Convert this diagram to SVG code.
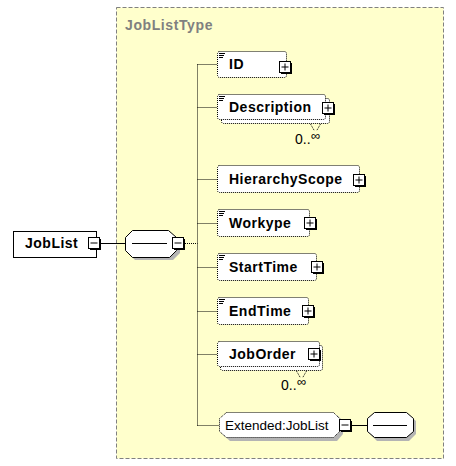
<svg xmlns="http://www.w3.org/2000/svg" xmlns:xlink="http://www.w3.org/1999/xlink" width="456" height="466" viewBox="0 0 456 466">
<style>
text{font-family:"Liberation Sans",Arial,sans-serif;fill:#000}
.nm{font-size:14px;font-weight:bold;letter-spacing:0.5px}
.el{fill:#fff;stroke:#000;stroke-width:1;stroke-dasharray:1,1}
.dot{fill:none;stroke:#000;stroke-width:1;stroke-dasharray:1,1}
.sh{fill:#b4b4b4}
.card{font-size:14px}
.inf{font-size:13px}
.ico{stroke:#000;stroke-width:1}
</style>
<defs>
<g id="plus"><rect x="2" y="2" width="11" height="11" fill="#000"/><rect x="0.5" y="0.5" width="11" height="11" fill="#fff" stroke="#000"/><path d="M2.5 6H9.5M6 2.5V9.5" stroke="#000" fill="none"/></g>
<g id="minus"><rect x="2" y="2" width="11" height="11" fill="#000"/><rect x="0.5" y="0.5" width="11" height="11" fill="#fff" stroke="#000"/><path d="M2.5 6H9.5" stroke="#000" fill="none"/></g>
<g id="icon"><path d="M0 0.5H6M0 2.5H5M0 4.5H4" class="ico" fill="none"/></g>
</defs>
<rect width="456" height="466" fill="#fff"/>
<g id="JobListType">
<rect x="116.5" y="7.5" width="327" height="451" fill="#ffffcc" stroke="#808080" stroke-dasharray="4,2"/>
<text x="125" y="30" style="font-size:14px;font-weight:bold;letter-spacing:0.6px;fill:#808080">JobListType</text>
</g>
<g id="connectors">
<path d="M100 243.5H125" stroke="#000" fill="none"/>
<path d="M185 243.5H197.5M197.5 64.5V425.5M197.5 64.5H217M197.5 107.5H217M197.5 179.5H217M197.5 223.5H217M197.5 267.5H217M197.5 311.5H217M197.5 354.5H217M197.5 425.5H219" class="dot"/>
<path d="M352 425.5H367" stroke="#000" fill="none"/>
</g>
<g id="JobList">
<rect x="13.5" y="231.5" width="83" height="26" fill="#fff" stroke="#000"/>
<text x="25" y="248" class="nm">JobList</text>
<use xlink:href="#minus" x="88" y="237"/>
</g>
<g id="sequence">
<polygon class="sh" points="135,233 170,233 180,240 180,253 173,260 135,260 128,253 128,240"/>
<polygon points="132.5,230.5 168.5,230.5 176.5,237.5 176.5,250.5 169.5,257.5 132.5,257.5 125.5,250.5 125.5,237.5" fill="#fff" stroke="#000"/>
<path d="M132 243.5H167" stroke="#000"/>
<use xlink:href="#minus" x="172" y="237"/>
</g>
<g id="ID">
<rect x="217.5" y="51.5" width="69" height="26" rx="2" class="el"/>
<use xlink:href="#icon" x="219" y="53"/>
<text x="229" y="69" class="nm">ID</text>
<use xlink:href="#plus" x="279" y="61"/>
</g>
<g id="Description">
<rect x="221.5" y="98.5" width="108" height="25" rx="2" class="el"/>
<rect x="217.5" y="94.5" width="108" height="25" rx="2" class="el"/>
<use xlink:href="#icon" x="219" y="96"/>
<text x="229" y="112" class="nm">Description</text>
<use xlink:href="#plus" x="322" y="102"/>
<path d="M310.5 124L314.5 131M320.5 124L316.5 131" class="dot"/>
<text x="295" y="144" class="card">0..</text>
<text x="311" y="140" class="inf">∞</text>
</g>
<g id="HierarchyScope">
<rect x="217.5" y="165.5" width="142" height="27" rx="2" class="el"/>
<text x="229" y="184" class="nm">HierarchyScope</text>
<use xlink:href="#plus" x="353" y="174"/>
</g>
<g id="Workype">
<rect x="217.5" y="209.5" width="92" height="27" rx="2" class="el"/>
<use xlink:href="#icon" x="219" y="211"/>
<text x="229" y="228" class="nm">Workype</text>
<use xlink:href="#plus" x="304" y="217"/>
</g>
<g id="StartTime">
<rect x="217.5" y="253.5" width="99" height="27" rx="2" class="el"/>
<use xlink:href="#icon" x="219" y="255"/>
<text x="229" y="272" class="nm">StartTime</text>
<use xlink:href="#plus" x="311" y="261"/>
</g>
<g id="EndTime">
<rect x="217.5" y="297.5" width="91" height="27" rx="2" class="el"/>
<use xlink:href="#icon" x="219" y="299"/>
<text x="229" y="316" class="nm">EndTime</text>
<use xlink:href="#plus" x="302" y="305"/>
</g>
<g id="JobOrder">
<rect x="220.5" y="345.5" width="102" height="25" rx="2" class="el"/>
<rect x="217.5" y="341.5" width="102" height="25" rx="2" class="el"/>
<text x="229" y="359" class="nm">JobOrder</text>
<use xlink:href="#plus" x="308" y="348"/>
<path d="M296.5 371L300.5 378M306.5 371L302.5 378" class="dot"/>
<text x="281" y="390" class="card">0..</text>
<text x="297" y="386" class="inf">∞</text>
</g>
<g id="Extended">
<polygon class="sh" points="230,415 337,415 343,421 343,434 337,441 230,441 222,434 222,421"/>
<polygon points="226.5,412.5 333.5,412.5 339.5,418.5 339.5,431.5 333.5,437.5 226.5,437.5 219.5,431.5 219.5,418.5" class="el"/>
<text x="225" y="430" style="font-size:13.5px">Extended:JobList</text>
<use xlink:href="#minus" x="339" y="419"/>
<polygon class="sh" points="377,415 409,415 416,421 416,434 409,441 377,441 370,434 370,421"/>
<polygon points="374.5,412.5 406.5,412.5 413.5,418.5 413.5,431.5 406.5,437.5 374.5,437.5 367.5,431.5 367.5,418.5" fill="#fff" stroke="#000"/>
<path d="M373 425.5H407" stroke="#000"/>
</g>
</svg>
